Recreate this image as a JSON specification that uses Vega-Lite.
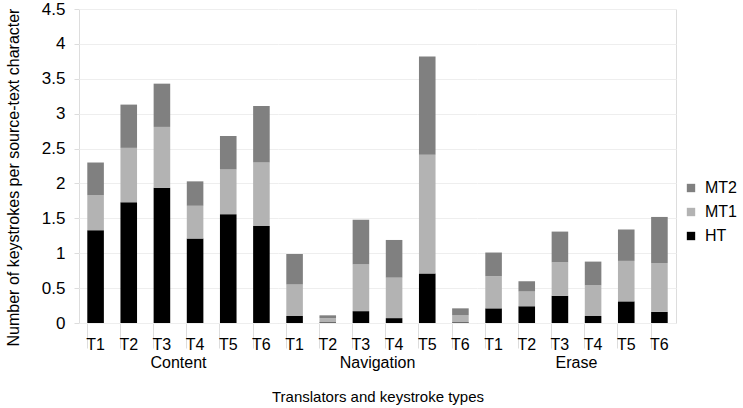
{
  "$schema": "https://vega.github.io/schema/vega-lite/v6.json",
  "description": "Stacked bars of keystrokes per source-text character by translator, keystroke type and task.",
  "padding": {"left": 5, "top": 0, "right": 5, "bottom": 5},
  "data": {
    "values": [
      {"type": "Content", "t": "T1", "task": "HT", "value": 1.33},
      {"type": "Content", "t": "T1", "task": "MT1", "value": 0.50},
      {"type": "Content", "t": "T1", "task": "MT2", "value": 0.47},
      {"type": "Content", "t": "T2", "task": "HT", "value": 1.73},
      {"type": "Content", "t": "T2", "task": "MT1", "value": 0.78},
      {"type": "Content", "t": "T2", "task": "MT2", "value": 0.62},
      {"type": "Content", "t": "T3", "task": "HT", "value": 1.94},
      {"type": "Content", "t": "T3", "task": "MT1", "value": 0.87},
      {"type": "Content", "t": "T3", "task": "MT2", "value": 0.62},
      {"type": "Content", "t": "T4", "task": "HT", "value": 1.21},
      {"type": "Content", "t": "T4", "task": "MT1", "value": 0.47},
      {"type": "Content", "t": "T4", "task": "MT2", "value": 0.35},
      {"type": "Content", "t": "T5", "task": "HT", "value": 1.56},
      {"type": "Content", "t": "T5", "task": "MT1", "value": 0.64},
      {"type": "Content", "t": "T5", "task": "MT2", "value": 0.48},
      {"type": "Content", "t": "T6", "task": "HT", "value": 1.39},
      {"type": "Content", "t": "T6", "task": "MT1", "value": 0.91},
      {"type": "Content", "t": "T6", "task": "MT2", "value": 0.81},
      {"type": "Navigation", "t": "T1", "task": "HT", "value": 0.10},
      {"type": "Navigation", "t": "T1", "task": "MT1", "value": 0.45},
      {"type": "Navigation", "t": "T1", "task": "MT2", "value": 0.44},
      {"type": "Navigation", "t": "T2", "task": "HT", "value": 0.01},
      {"type": "Navigation", "t": "T2", "task": "MT1", "value": 0.06},
      {"type": "Navigation", "t": "T2", "task": "MT2", "value": 0.04},
      {"type": "Navigation", "t": "T3", "task": "HT", "value": 0.17},
      {"type": "Navigation", "t": "T3", "task": "MT1", "value": 0.67},
      {"type": "Navigation", "t": "T3", "task": "MT2", "value": 0.64},
      {"type": "Navigation", "t": "T4", "task": "HT", "value": 0.07},
      {"type": "Navigation", "t": "T4", "task": "MT1", "value": 0.58},
      {"type": "Navigation", "t": "T4", "task": "MT2", "value": 0.54},
      {"type": "Navigation", "t": "T5", "task": "HT", "value": 0.71},
      {"type": "Navigation", "t": "T5", "task": "MT1", "value": 1.70},
      {"type": "Navigation", "t": "T5", "task": "MT2", "value": 1.41},
      {"type": "Navigation", "t": "T6", "task": "HT", "value": 0.01},
      {"type": "Navigation", "t": "T6", "task": "MT1", "value": 0.10},
      {"type": "Navigation", "t": "T6", "task": "MT2", "value": 0.10},
      {"type": "Erase", "t": "T1", "task": "HT", "value": 0.21},
      {"type": "Erase", "t": "T1", "task": "MT1", "value": 0.46},
      {"type": "Erase", "t": "T1", "task": "MT2", "value": 0.34},
      {"type": "Erase", "t": "T2", "task": "HT", "value": 0.24},
      {"type": "Erase", "t": "T2", "task": "MT1", "value": 0.21},
      {"type": "Erase", "t": "T2", "task": "MT2", "value": 0.15},
      {"type": "Erase", "t": "T3", "task": "HT", "value": 0.39},
      {"type": "Erase", "t": "T3", "task": "MT1", "value": 0.48},
      {"type": "Erase", "t": "T3", "task": "MT2", "value": 0.44},
      {"type": "Erase", "t": "T4", "task": "HT", "value": 0.10},
      {"type": "Erase", "t": "T4", "task": "MT1", "value": 0.44},
      {"type": "Erase", "t": "T4", "task": "MT2", "value": 0.34},
      {"type": "Erase", "t": "T5", "task": "HT", "value": 0.31},
      {"type": "Erase", "t": "T5", "task": "MT1", "value": 0.58},
      {"type": "Erase", "t": "T5", "task": "MT2", "value": 0.45},
      {"type": "Erase", "t": "T6", "task": "HT", "value": 0.16},
      {"type": "Erase", "t": "T6", "task": "MT1", "value": 0.70},
      {"type": "Erase", "t": "T6", "task": "MT2", "value": 0.66}
    ]
  },
  "facet": {
    "column": {
      "field": "type",
      "type": "nominal",
      "sort": ["Content", "Navigation", "Erase"],
      "header": {
        "title": "Translators and keystroke types",
        "titleOrient": "bottom",
        "titleFontSize": 15,
        "titleFontWeight": "normal",
        "titleColor": "#000",
        "titlePadding": 9,
        "labelOrient": "bottom",
        "labelFontSize": 16,
        "labelColor": "#000",
        "labelPadding": 3
      }
    }
  },
  "spacing": 0,
  "spec": {
    "width": 199,
    "height": 314,
    "encoding": {
      "x": {
        "field": "t",
        "type": "nominal",
        "title": null,
        "scale": {"paddingInner": 0.5, "paddingOuter": 0.25},
        "axis": {
          "labelAngle": 0,
          "labelFontSize": 16,
          "labelColor": "#000",
          "labelPadding": -12,
          "bandPosition": 0,
          "tickSize": 25,
          "tickColor": "#dddddd",
          "domainColor": "#dddddd"
        }
      },
      "color": {
        "field": "task",
        "type": "nominal",
        "title": null,
        "scale": {"domain": ["MT2", "MT1", "HT"], "range": ["#808080", "#b3b3b3", "#000000"]},
        "legend": {
          "orient": "none",
          "legendX": 604,
          "legendY": 171,
          "symbolType": "square",
          "symbolSize": 70,
          "symbolStrokeWidth": 0,
          "labelFontSize": 16,
          "labelColor": "#000",
          "labelOffset": 6,
          "rowPadding": 8
        }
      },
      "order": {"field": "task", "sort": "ascending"}
    },
    "layer": [
      {
        "mark": {"type": "bar"},
        "encoding": {
          "y": {
            "field": "value",
            "type": "quantitative",
            "stack": "zero",
            "title": "Number of keystrokes per source-text character",
            "scale": {"domain": [0, 4.5], "nice": false},
            "axis": {
              "values": [0, 0.5, 1, 1.5, 2, 2.5, 3, 3.5, 4, 4.5],
              "format": "~g",
              "labelFontSize": 17,
              "labelColor": "#000",
              "labelPadding": 9,
              "titleFontSize": 16,
              "titleFontWeight": "normal",
              "titleColor": "#000",
              "titlePadding": 20,
              "titleY": 168,
              "tickSize": 5,
              "tickColor": "#dddddd",
              "domainColor": "#dddddd",
              "gridColor": "#eeeeee"
            }
          }
        }
      },
      {
        "mark": {"type": "bar", "opacity": 0},
        "encoding": {
          "y": {
            "field": "value",
            "type": "quantitative",
            "stack": "zero",
            "title": null,
            "scale": {"domain": [0, 4.5], "nice": false},
            "axis": {
              "orient": "right",
              "labels": false,
              "ticks": false,
              "grid": false,
              "domainColor": "#dddddd"
            }
          }
        }
      }
    ],
    "resolve": {"axis": {"y": "independent"}}
  },
  "config": {
    "font": "Liberation Sans",
    "view": {"stroke": null}
  }
}
